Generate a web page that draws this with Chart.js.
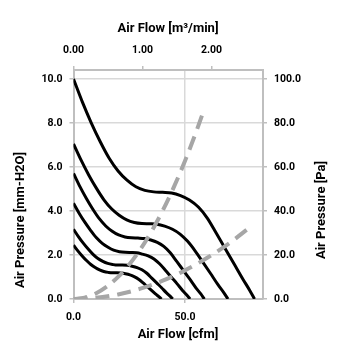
<!DOCTYPE html>
<html>
<head>
<meta charset="utf-8">
<script src="https://cdn.jsdelivr.net/npm/chart.js@4.4.0/dist/chart.umd.min.js"></script>
<style>
html,body{margin:0;padding:0;background:#fff;}
#wrap{width:355px;height:355px;}
</style>
</head>
<body>
<div id="wrap"><canvas id="c" width="355" height="355"></canvas></div>
<script>
// Fan curves (x: cfm, y: mm-H2O)
const fan1X = [0, 4, 8, 12, 16, 20, 24, 28, 32, 36, 40, 44, 48, 52, 56, 60, 64, 68, 72, 76, 79, 81.2];
const fan1Y = [10, 8.95, 8.0, 7.15, 6.4, 5.82, 5.4, 5.1, 4.94, 4.87, 4.85, 4.82, 4.7, 4.5, 4.18, 3.68, 3.0, 2.3, 1.6, 0.9, 0.4, 0];
const fan2X = [0, 3.41, 6.82, 10.24, 13.65, 17.06, 20.47, 23.88, 27.3, 30.7, 34.1, 37.5, 40.9, 44.4, 47.8, 51.2, 54.6, 58.0, 61.4, 64.8, 67.4, 69.3];
const fan2Y = [7.05, 6.31, 5.64, 5.04, 4.51, 4.10, 3.81, 3.60, 3.48, 3.43, 3.42, 3.40, 3.31, 3.17, 2.95, 2.62, 2.18, 1.68, 1.17, 0.65, 0.29, 0];
const fan3X = [0, 2.89, 5.78, 8.68, 11.57, 14.46, 17.35, 20.24, 23.1, 26.0, 28.9, 31.8, 34.7, 37.6, 40.5, 43.4, 46.3, 49.2, 52.1, 54.9, 57.1, 58.7];
const fan3Y = [5.71, 5.11, 4.57, 4.08, 3.65, 3.32, 3.08, 2.91, 2.82, 2.78, 2.77, 2.75, 2.68, 2.57, 2.39, 2.10, 1.71, 1.31, 0.91, 0.51, 0.23, 0];
const fan4X = [0, 2.58, 5.15, 7.73, 10.3, 12.9, 15.5, 18.0, 20.6, 23.2, 25.8, 28.3, 30.9, 33.5, 36.1, 38.6, 41.2, 43.8, 46.4, 48.9, 50.9, 52.3];
const fan4Y = [4.35, 3.89, 3.48, 3.11, 2.78, 2.53, 2.35, 2.22, 2.15, 2.12, 2.11, 2.10, 2.04, 1.96, 1.82, 1.60, 1.31, 1.00, 0.70, 0.39, 0.17, 0];
const fan5X = [0, 2.19, 4.38, 6.58, 8.77, 10.96, 13.15, 15.34, 17.5, 19.7, 21.9, 24.1, 26.3, 28.5, 30.7, 32.9, 35.1, 37.3, 39.5, 41.6, 43.3, 44.5];
const fan5Y = [3.17, 2.84, 2.54, 2.27, 2.03, 1.84, 1.71, 1.62, 1.57, 1.54, 1.54, 1.53, 1.49, 1.43, 1.33, 1.17, 0.95, 0.73, 0.51, 0.29, 0.13, 0];
const fan6X = [0, 1.95, 3.89, 5.84, 7.78, 9.73, 11.7, 13.6, 15.6, 17.5, 19.5, 21.4, 23.3, 25.3, 27.2, 29.2, 31.1, 33.1, 35.0, 36.9, 38.4, 39.5];
const fan6Y = [2.45, 2.19, 1.96, 1.75, 1.57, 1.43, 1.32, 1.25, 1.21, 1.19, 1.19, 1.18, 1.15, 1.10, 1.02, 0.90, 0.74, 0.56, 0.39, 0.22, 0.10, 0];
// System impedance curves
const sysAX = [0, 5, 10, 15, 20, 25, 30, 35, 40, 45, 50, 55, 58.2];
const sysAY = [0, 0.063, 0.251, 0.565, 1.004, 1.569, 2.259, 3.075, 4.016, 5.083, 6.275, 7.593, 8.502];
const sysBX = [0, 10, 20, 30, 40, 50, 60, 70, 79.3];
const sysBY = [0, 0.052, 0.208, 0.468, 0.832, 1.30, 1.872, 2.548, 3.27];

const bottomTicks = [0, 50];
const topTicks = [0, 1, 2];
const leftTicks = [0, 2, 4, 6, 8, 10];
const rightTicks = [0, 20, 40, 60, 80, 100];

const titleTop = 'Air Flow [m³/min]';
const titleBottom = 'Air Flow [cfm]';
const titleLeft = 'Air Pressure [mm-H2O]';
const titleRight = 'Air Pressure [Pa]';

const pts = (xs, ys) => xs.map((x, i) => ({x: x, y: ys[i]}));
const FONT = 'Roboto';
const tickFont = {family: FONT, size: 10.5, weight: 'bold'};

const fanStyle = {borderColor: '#000', borderWidth: 3, pointRadius: 0, showLine: true, fill: false, tension: 0.4, cubicInterpolationMode: 'monotone', xAxisID: 'x', yAxisID: 'y'};
const sysStyle = {borderColor: '#a6a6a6', borderWidth: 4, borderDash: [14, 8], pointRadius: 0, showLine: true, fill: false, tension: 0.4, cubicInterpolationMode: 'monotone', xAxisID: 'x', yAxisID: 'y'};

const datasets = [
  Object.assign({data: pts(sysAX, sysAY)}, sysStyle),
  Object.assign({data: pts(sysBX, sysBY)}, sysStyle),
  Object.assign({data: pts(fan1X, fan1Y)}, fanStyle),
  Object.assign({data: pts(fan2X, fan2Y)}, fanStyle),
  Object.assign({data: pts(fan3X, fan3Y)}, fanStyle),
  Object.assign({data: pts(fan4X, fan4Y)}, fanStyle),
  Object.assign({data: pts(fan5X, fan5Y)}, fanStyle),
  Object.assign({data: pts(fan6X, fan6Y)}, fanStyle)
];

const titles = {
  id: 'titles',
  afterDraw(chart) {
    const ctx = chart.ctx;
    ctx.save();
    ctx.fillStyle = '#000';
    ctx.font = 'bold 13px ' + FONT;
    ctx.textAlign = 'center';
    ctx.textBaseline = 'middle';
    ctx.fillText(titleTop, 168, 29);
    ctx.fillText(titleBottom, 178, 335);
    ctx.save();
    ctx.translate(20.5, 220);
    ctx.rotate(-Math.PI / 2);
    ctx.fillText(titleLeft, 0, 0);
    ctx.restore();
    ctx.save();
    ctx.translate(321.5, 210);
    ctx.rotate(-Math.PI / 2);
    ctx.fillText(titleRight, 0, 0);
    ctx.restore();
    ctx.restore();
  }
};

new Chart(document.getElementById('c'), {
  type: 'scatter',
  data: {datasets: datasets},
  options: {
    responsive: false,
    animation: false,
    layout: {padding: 0},
    plugins: {legend: {display: false}, tooltip: {enabled: false}},
    scales: {
      x: {
        type: 'linear', position: 'bottom', min: 0, max: 85,
        afterFit: s => { s.height = 56; },
        afterBuildTicks: s => { s.ticks = bottomTicks.map(v => ({value: v})); },
        ticks: {font: tickFont, color: '#000', padding: 8, maxRotation: 0, callback: v => v.toFixed(1)},
        grid: {color: '#d9d9d9', lineWidth: 1.5, tickLength: 4, tickColor: '#bfbfbf', tickWidth: 1.5},
        border: {color: '#bfbfbf', width: 2}
      },
      x2: {
        type: 'linear', position: 'top', min: 0, max: 2.745,
        afterFit: s => { s.height = 70; },
        afterBuildTicks: s => { s.ticks = topTicks.map(v => ({value: v})); },
        ticks: {font: tickFont, color: '#000', padding: 9, maxRotation: 0, callback: v => v.toFixed(2)},
        grid: {drawOnChartArea: false, tickLength: 4, color: '#bfbfbf', lineWidth: 1.5},
        border: {color: '#bfbfbf', width: 2}
      },
      y: {
        type: 'linear', position: 'left', min: 0, max: 10.41,
        afterFit: s => { s.width = 73.5; },
        afterBuildTicks: s => { s.ticks = leftTicks.map(v => ({value: v})); },
        ticks: {font: tickFont, color: '#000', padding: 7, callback: v => v.toFixed(1)},
        grid: {color: '#d9d9d9', lineWidth: 1.5, tickLength: 4, tickColor: '#bfbfbf', tickWidth: 1.5},
        border: {color: '#bfbfbf', width: 2}
      },
      y2: {
        type: 'linear', position: 'right', min: 0, max: 104.1,
        afterFit: s => { s.width = 92; },
        afterBuildTicks: s => { s.ticks = rightTicks.map(v => ({value: v})); },
        ticks: {font: tickFont, color: '#000', padding: 7, callback: v => v.toFixed(1)},
        grid: {drawOnChartArea: false, tickLength: 4, color: '#bfbfbf', lineWidth: 1.5},
        border: {color: '#bfbfbf', width: 2}
      }
    }
  },
  plugins: [titles]
});
</script>
</body>
</html>
